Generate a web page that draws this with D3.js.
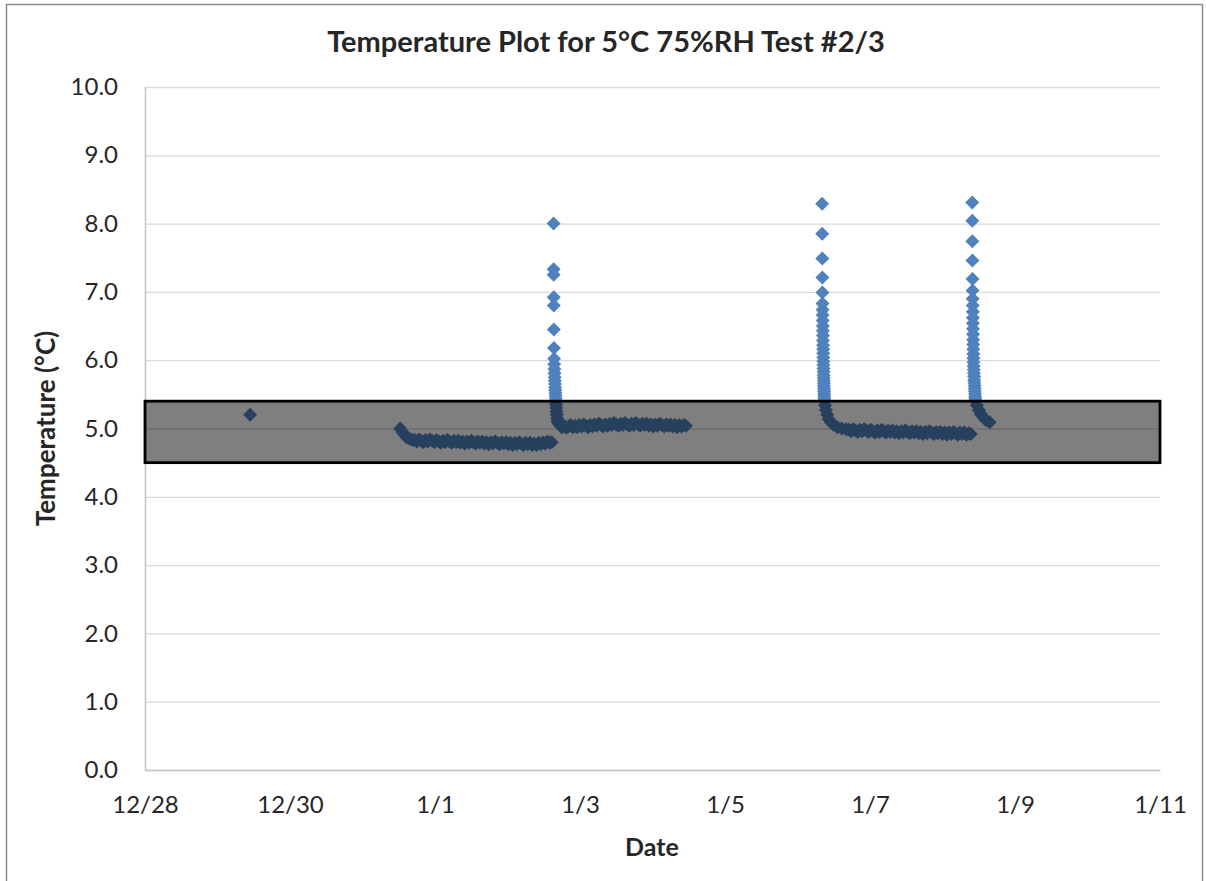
<!DOCTYPE html>
<html>
<head>
<meta charset="utf-8">
<script src="https://cdn.jsdelivr.net/npm/d3@7"></script>
<style>
  body { margin: 0; background: #fff; }
  text { font-family: Lato, "Open Sans", sans-serif; fill: #262626; }
</style>
</head>
<body>
<svg id="chart" width="1206" height="881"></svg>
<script>
// Logger start reference: 12/28 00:00; all times below are elapsed days from it.
const startDate = new Date(2013, 11, 28);

const chartTitle = "Temperature Plot for 5°C 75%RH Test #2/3";
const xTitle = "Date";
const yTitle = "Temperature (°C)";

const xTickLabels = ["12/28", "12/30", "1/1", "1/3", "1/5", "1/7", "1/9", "1/11"];
const xTickDays = [0, 2, 4, 6, 8, 10, 12, 14];
const yTickValues = [0, 1, 2, 3, 4, 5, 6, 7, 8, 9, 10];

// Target tolerance band (°C)
const bandLow = 4.5;
const bandHigh = 5.4;

// Stray reading on 12/29
const strayDays = [1.45];
const strayTemps = [5.20];

// Run 1: 12/31 - 1/2 (pull-down, then steady)
const run1Days = [3.52, 3.55, 3.58, 3.61, 3.65, 3.69,
  3.72, 3.75, 3.78, 3.81, 3.84, 3.87, 3.90, 3.93, 3.96, 3.99,
  4.02, 4.05, 4.08, 4.11, 4.14, 4.17, 4.20, 4.23, 4.26, 4.29,
  4.32, 4.35, 4.38, 4.41, 4.44, 4.47, 4.50, 4.53, 4.56, 4.59,
  4.62, 4.65, 4.68, 4.71, 4.74, 4.77, 4.80, 4.83, 4.86, 4.89,
  4.92, 4.95, 4.98, 5.01, 5.04, 5.07, 5.10, 5.13, 5.16, 5.19,
  5.22, 5.25, 5.28, 5.31, 5.34, 5.37, 5.40, 5.43, 5.46, 5.49,
  5.52, 5.55, 5.58, 5.61];
const run1Temps = [5.00, 4.95, 4.91, 4.87, 4.85, 4.83,
  4.83, 4.81, 4.84, 4.82, 4.80, 4.83, 4.81, 4.84, 4.82, 4.80,
  4.83, 4.81, 4.79, 4.82, 4.80, 4.83, 4.81, 4.79, 4.82, 4.80,
  4.82, 4.79, 4.81, 4.78, 4.81, 4.79, 4.82, 4.80, 4.78, 4.81,
  4.79, 4.81, 4.78, 4.80, 4.77, 4.80, 4.78, 4.81, 4.79, 4.77,
  4.80, 4.78, 4.80, 4.77, 4.79, 4.76, 4.79, 4.77, 4.80, 4.78,
  4.76, 4.79, 4.77, 4.79, 4.76, 4.78, 4.76, 4.79, 4.77, 4.80,
  4.78, 4.81, 4.79, 4.80];

// Door opening on 1/2 and recovery
const spike1Days = [5.635, 5.636, 5.637, 5.638, 5.639, 5.640, 5.641, 5.643, 5.645, 5.647,
  5.649, 5.651, 5.653, 5.655, 5.657, 5.659, 5.661, 5.663, 5.665, 5.667, 5.670, 5.673,
  5.676, 5.680, 5.685, 5.690, 5.700];
const spike1Temps = [8.00, 7.33, 7.25, 6.92, 6.80, 6.45, 6.18, 6.02, 5.94, 5.87,
  5.81, 5.75, 5.70, 5.65, 5.60, 5.56, 5.52, 5.48, 5.44, 5.40, 5.35, 5.30,
  5.25, 5.20, 5.15, 5.11, 5.08];

// Run 2: 1/2 - 1/4
const run2Days = [5.72, 5.75, 5.78, 5.81, 5.84, 5.87, 5.90, 5.93, 5.96, 5.99,
  6.02, 6.05, 6.08, 6.11, 6.14, 6.17, 6.20, 6.23, 6.26, 6.29,
  6.32, 6.35, 6.38, 6.41, 6.44, 6.47, 6.50, 6.53, 6.56, 6.59,
  6.62, 6.65, 6.68, 6.71, 6.74, 6.77, 6.80, 6.83, 6.86, 6.89,
  6.92, 6.95, 6.98, 7.01, 7.04, 7.07, 7.10, 7.13, 7.16, 7.19,
  7.22, 7.25, 7.28, 7.31, 7.34, 7.37, 7.40, 7.43, 7.46];
const run2Temps = [5.05, 5.02, 5.04, 5.01, 5.03, 5.05, 5.02, 5.04, 5.02, 5.05,
  5.03, 5.06, 5.04, 5.02, 5.05, 5.03, 5.06, 5.04, 5.07, 5.05,
  5.03, 5.06, 5.04, 5.07, 5.05, 5.08, 5.06, 5.04, 5.07, 5.05,
  5.08, 5.06, 5.04, 5.07, 5.05, 5.08, 5.06, 5.04, 5.07, 5.05,
  5.07, 5.04, 5.06, 5.03, 5.06, 5.04, 5.07, 5.05, 5.03, 5.06,
  5.04, 5.06, 5.03, 5.05, 5.02, 5.05, 5.03, 5.05, 5.04];

// Door opening on 1/6 and recovery
const spike2Days = [9.340, 9.341, 9.342, 9.343, 9.344, 9.345, 9.346, 9.347, 9.348, 9.349,
  9.350, 9.351, 9.352, 9.353, 9.354, 9.355, 9.356, 9.357, 9.358, 9.359, 9.360, 9.361,
  9.362, 9.363, 9.364, 9.365, 9.366, 9.367, 9.368, 9.369, 9.370, 9.371,
  9.380, 9.392, 9.41, 9.43, 9.46, 9.50, 9.55, 9.61, 9.67];
const spike2Temps = [8.29, 7.85, 7.49, 7.21, 6.99, 6.83, 6.74, 6.66, 6.58, 6.50,
  6.43, 6.36, 6.29, 6.22, 6.16, 6.10, 6.04, 5.98, 5.93, 5.88, 5.83, 5.78,
  5.74, 5.70, 5.66, 5.62, 5.58, 5.54, 5.50, 5.47, 5.44, 5.41,
  5.34, 5.27, 5.20, 5.14, 5.09, 5.05, 5.02, 5.00, 4.99];

// Run 3: 1/6 - 1/8
const run3Days = [9.71, 9.74, 9.77, 9.80, 9.83, 9.86, 9.89, 9.92, 9.95, 9.98,
  10.01, 10.04, 10.07, 10.10, 10.13, 10.16, 10.19, 10.22, 10.25, 10.28,
  10.31, 10.34, 10.37, 10.40, 10.43, 10.46, 10.49, 10.52, 10.55, 10.58,
  10.61, 10.64, 10.67, 10.70, 10.73, 10.76, 10.79, 10.82, 10.85, 10.88,
  10.91, 10.94, 10.97, 11.00, 11.03, 11.06, 11.09, 11.12, 11.15, 11.18,
  11.21, 11.24, 11.27, 11.30, 11.33, 11.36, 11.39];
const run3Temps = [4.98, 4.96, 4.99, 4.97, 4.95, 4.98, 4.96, 4.99, 4.97, 4.95,
  4.98, 4.96, 4.94, 4.97, 4.95, 4.98, 4.96, 4.94, 4.97, 4.95,
  4.97, 4.94, 4.96, 4.93, 4.96, 4.94, 4.97, 4.95, 4.93, 4.96,
  4.94, 4.96, 4.93, 4.95, 4.92, 4.95, 4.93, 4.96, 4.94, 4.92,
  4.95, 4.93, 4.95, 4.92, 4.94, 4.91, 4.94, 4.92, 4.95, 4.93,
  4.91, 4.94, 4.92, 4.94, 4.91, 4.93, 4.92];

// Door opening on 1/8 and recovery
const spike3Days = [11.410, 11.411, 11.412, 11.413, 11.414, 11.415, 11.416, 11.417, 11.418,
  11.419, 11.420, 11.421, 11.422, 11.423, 11.424, 11.425, 11.426, 11.427, 11.428, 11.430,
  11.432, 11.434, 11.436, 11.438, 11.440, 11.442, 11.444, 11.446, 11.448, 11.450, 11.452,
  11.454, 11.475, 11.500, 11.530, 11.565, 11.600, 11.650];
const spike3Temps = [8.31, 8.04, 7.74, 7.46, 7.19, 7.02, 6.90, 6.80, 6.71,
  6.62, 6.54, 6.46, 6.38, 6.30, 6.23, 6.16, 6.09, 6.03, 5.97, 5.91,
  5.86, 5.81, 5.76, 5.71, 5.67, 5.63, 5.59, 5.55, 5.51, 5.47, 5.44,
  5.41, 5.34, 5.27, 5.21, 5.16, 5.12, 5.09];

const segments = [
  [strayDays, strayTemps], [run1Days, run1Temps], [spike1Days, spike1Temps],
  [run2Days, run2Temps], [spike2Days, spike2Temps], [run3Days, run3Temps],
  [spike3Days, spike3Temps]
];

const dayMs = 864e5;
const toDate = d => new Date(startDate.getTime() + d * dayMs);
const readings = segments.flatMap(([days, temps]) =>
  days.map((d, i) => ({ time: toDate(d), temp: temps[i] })));

const svg = d3.select("#chart");
const H = 881;
const plot = { left: 145, right: 1160, top: 87, bottom: 770 };

// Outer chart frame
svg.append("rect")
  .attr("x", 6.5).attr("y", 4.5)
  .attr("width", 1196).attr("height", H)
  .attr("fill", "#fff").attr("stroke", "#8c8c8c").attr("stroke-width", 1.5);

const x = d3.scaleTime()
  .domain([toDate(0), toDate(14)])
  .range([plot.left, plot.right]);
const y = d3.scaleLinear()
  .domain([0, 10])
  .range([plot.bottom, plot.top]);

// Horizontal gridlines
svg.append("g")
  .attr("transform", `translate(${plot.left},0)`)
  .call(d3.axisLeft(y).tickValues(yTickValues).tickSize(-(plot.right - plot.left)).tickFormat(""))
  .call(g => g.select(".domain").remove())
  .call(g => g.selectAll(".tick line").attr("stroke", "#d9d9d9").attr("stroke-width", 1.3));

// Y axis labels
const yAxis = svg.append("g")
  .attr("transform", `translate(${plot.left},0)`)
  .call(d3.axisLeft(y).tickValues(yTickValues).tickSize(0).tickPadding(27).tickFormat(d3.format(".1f")));
yAxis.select(".domain").attr("stroke", "#c4c4c4").attr("stroke-width", 1.5);
yAxis.selectAll(".tick text")
  .style("font-family", "Lato, sans-serif").style("font-size", "24px").attr("fill", "#303030");

// X axis
const xAxis = svg.append("g")
  .attr("transform", `translate(0,${plot.bottom})`)
  .call(d3.axisBottom(x)
    .tickValues(xTickDays.map(toDate))
    .tickSize(0).tickPadding(26)
    .tickFormat((d, i) => xTickLabels[i]));
xAxis.select(".domain").attr("stroke", "#c4c4c4").attr("stroke-width", 1.5);
xAxis.selectAll(".tick text")
  .style("font-family", "Lato, sans-serif").style("font-size", "24px").attr("fill", "#303030");

// Data markers (diamonds)
const r = 7;
svg.append("g")
  .selectAll("path")
  .data(readings)
  .join("path")
  .attr("transform", d => `translate(${x(d.time)},${y(d.temp)})`)
  .attr("d", `M0,${-r}L${r},0L0,${r}L${-r},0Z`)
  .attr("fill", "#4f81bd");

// Tolerance band overlay
svg.append("rect")
  .attr("x", plot.left)
  .attr("y", y(bandHigh))
  .attr("width", plot.right - plot.left)
  .attr("height", y(bandLow) - y(bandHigh))
  .attr("fill", "rgba(0,0,0,0.5)")
  .attr("stroke", "#000").attr("stroke-width", 2.8);

// Titles
svg.append("text")
  .attr("x", 606).attr("y", 52)
  .attr("text-anchor", "middle")
  .style("font-size", "29px").style("font-weight", "bold")
  .text(chartTitle);

svg.append("text")
  .attr("x", 652).attr("y", 856)
  .attr("text-anchor", "middle")
  .style("font-size", "25px").style("font-weight", "bold")
  .text(xTitle);

svg.append("text")
  .attr("transform", `translate(55,${(plot.top + plot.bottom) / 2}) rotate(-90)`)
  .attr("text-anchor", "middle")
  .style("font-size", "26px").style("font-weight", "bold")
  .text(yTitle);
</script>
</body>
</html>
